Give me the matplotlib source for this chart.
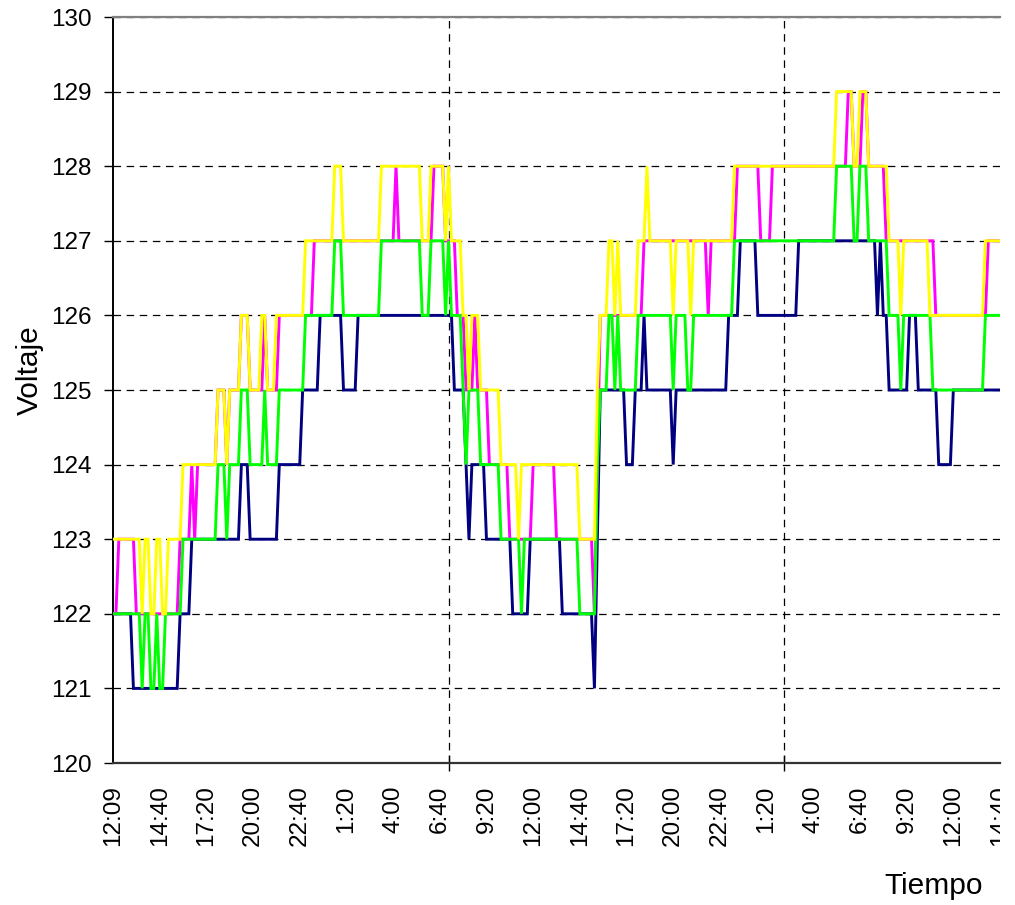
import numpy as np
import matplotlib
matplotlib.use('Agg')
import matplotlib.pyplot as plt
from matplotlib.transforms import Bbox, TransformedBbox

plt.rcParams['font.family'] = ['Liberation Sans', 'DejaVu Sans']

# ---------------- data (voltage readings, run-length encoded: (value, count)) ----------------
time_labels = ['12:09', '14:40', '17:20', '20:00', '22:40', '1:20', '4:00', '6:40', '9:20',
               '12:00', '14:40', '17:20', '20:00', '22:40', '1:20', '4:00', '6:40', '9:20',
               '12:00', '14:40']
n_points = 305
label_step = 16
major_marks = [0, 115, 230]

serie_navy = [(122, 7), (121, 16), (122, 4), (123, 17), (124, 3), (123, 10), (124, 8), (125, 6),
              (126, 8), (125, 5), (126, 33), (125, 4), (124, 1), (123, 1), (124, 5), (123, 9),
              (122, 6), (123, 11), (122, 11), (121, 1), (123, 1), (125, 9), (124, 3), (125, 3),
              (126, 1), (125, 9), (124, 1), (125, 18), (126, 4), (127, 6), (126, 14), (127, 27),
              (126, 1), (127, 1), (126, 2), (125, 7), (126, 3), (125, 7), (124, 5), (125, 17)]

serie_magenta = [(122, 2), (123, 6), (122, 15), (123, 4), (124, 1), (123, 1), (124, 7), (125, 3),
                 (124, 1), (125, 4), (126, 3), (125, 5), (126, 1), (125, 4), (126, 12), (127, 28),
                 (128, 1), (127, 12), (128, 4), (127, 4), (126, 3), (125, 3), (126, 1), (125, 4),
                 (124, 7), (123, 8), (124, 8), (123, 13), (122, 1), (124, 1), (126, 15), (127, 22),
                 (126, 1), (127, 9), (128, 8), (127, 4), (128, 26), (129, 2), (128, 3), (129, 2),
                 (128, 6), (127, 17), (126, 18), (127, 5)]

serie_green = [(122, 10), (121, 1), (122, 2), (121, 2), (122, 1), (121, 2), (122, 6), (123, 12),
               (124, 3), (123, 1), (124, 4), (125, 3), (124, 5), (125, 1), (124, 4), (125, 9),
               (126, 10), (127, 3), (126, 13), (127, 14), (126, 3), (127, 5), (126, 1), (127, 1),
               (126, 4), (125, 1), (124, 1), (125, 4), (124, 7), (123, 7), (122, 1), (123, 19),
               (122, 6), (124, 1), (125, 3), (126, 2), (125, 1), (126, 1), (125, 6), (126, 12),
               (125, 1), (126, 4), (125, 2), (126, 14), (127, 35), (128, 6), (127, 2), (128, 3),
               (127, 7), (126, 4), (125, 1), (126, 10), (125, 18), (126, 6)]

serie_yellow = [(123, 10), (122, 1), (123, 2), (122, 2), (123, 2), (122, 2), (123, 5), (124, 12),
                (125, 3), (124, 1), (125, 4), (126, 3), (125, 4), (126, 2), (125, 3), (126, 10),
                (127, 10), (128, 3), (127, 13), (128, 14), (127, 3), (128, 5), (127, 1), (128, 1),
                (127, 4), (126, 2), (125, 1), (126, 3), (125, 7), (124, 6), (123, 1), (124, 20),
                (123, 6), (125, 1), (126, 3), (127, 2), (126, 1), (127, 1), (126, 6), (127, 3),
                (128, 1), (127, 8), (126, 1), (127, 5), (126, 1), (127, 14), (128, 35), (129, 6),
                (128, 2), (129, 3), (128, 7), (127, 4), (126, 1), (127, 9), (126, 19), (127, 6)]

series = [(serie_navy, '#000080'), (serie_magenta, '#FF00FF'),
          (serie_green, '#00FF00'), (serie_yellow, '#FFFF00')]


def expand(runs):
    return np.repeat([v for v, c in runs], [c for v, c in runs])


# ---------------- figure ----------------
W, H = 1015, 905
fig = plt.figure(figsize=(W / 100, H / 100), dpi=100)
ax = fig.add_axes([113 / W, 142 / H, 887 / W, 746 / H])

x = np.arange(n_points)
for runs, col in series:
    y = expand(runs)
    ax.plot(x[:len(y)], y, color=col, lw=2.1, solid_joinstyle='miter', zorder=3)

ax.set_xlim(0, n_points - 1)
ax.set_ylim(120, 130)

# y axis
ax.set_yticks(np.arange(120, 131, 1))
ax.tick_params(axis='y', direction='out', length=6.5, width=1, labelsize=17.5, pad=9,
               colors='black')
ax.yaxis.grid(True, color='black', lw=0.9, linestyle=(0, (6, 4.5)))

# x axis: labels every 16 points, marks at major positions
ax.set_xticks(np.arange(0, n_points, label_step))
labels = ax.set_xticklabels(time_labels, rotation=90, fontsize=17.5)
ax.tick_params(axis='x', which='major', length=0, pad=16)
ax.set_xticks(major_marks, minor=True)
ax.tick_params(axis='x', which='minor', direction='inout', length=11, width=1, color='black')
ax.xaxis.grid(True, which='minor', color='black', lw=0.9, linestyle=(0, (6, 4.5)))
ax.xaxis.grid(False, which='major')

clip = TransformedBbox(Bbox([[0, 0], [1000 / W, 1]]), fig.transFigure)
for lab in labels:
    lab.set_clip_box(clip)
    lab.set_clip_on(True)

# spines
ax.spines['right'].set_visible(False)
ax.spines['top'].set_color('#808080')
ax.spines['top'].set_linewidth(1.6)
ax.spines['left'].set_color('black')
ax.spines['left'].set_linewidth(1.4)
ax.spines['bottom'].set_color('#333333')
ax.spines['bottom'].set_linewidth(1.6)

fig.text(30 / W, 1 - 370 / H, 'Voltaje', rotation=90, ha='center', va='center', fontsize=21.5)
fig.text(934 / W, 1 - 894 / H, 'Tiempo', ha='center', va='baseline', fontsize=21.5)

fig.savefig('out.png', dpi=100)
